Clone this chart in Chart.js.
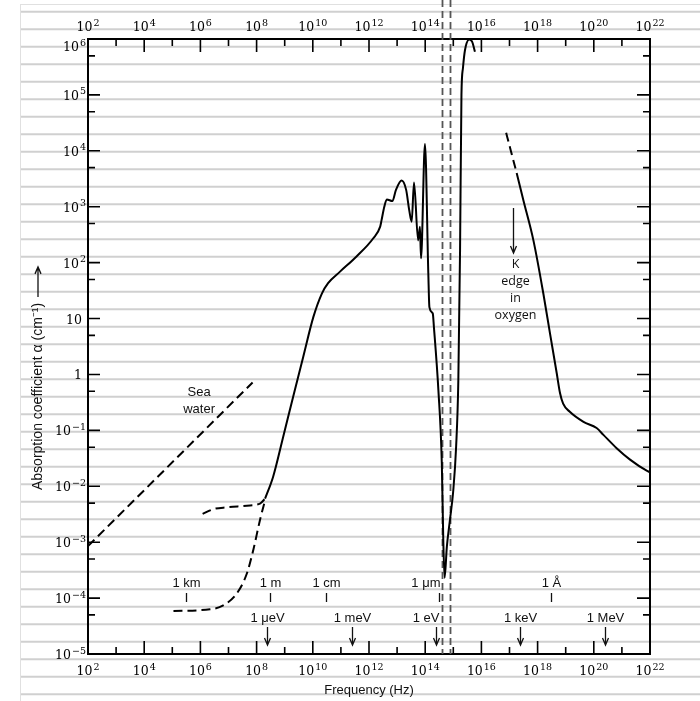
<!DOCTYPE html>
<html>
<head>
<meta charset="utf-8">
<style>
  html, body { margin: 0; padding: 0; background: #fff; }
  #wrap { width: 700px; height: 701px; }
</style>
</head>
<body>
<div id="wrap"><canvas id="absorptionChart"></canvas></div>
<script src="https://cdn.jsdelivr.net/npm/chart.js@4/dist/chart.umd.min.js"></script>
<script>
// Absorption coefficient of water vs frequency (log-log)
// frequency in Hz, alpha in cm^-1

const waterFreq  = [2.0e8, 3.9e8, 8.9e8, 2.0e9, 4.6e9, 1.05e10, 2.1e10, 3.5e10, 9.3e10, 3.6e11,
                    1.4e12, 2.5e12, 2.8e12, 3.5e12, 4.3e12, 6.8e12, 9.1e12, 1.45e13, 2.1e13, 2.7e13,
                    3.3e13, 4.0e13, 5.6e13, 6.5e13, 7.1e13, 9.8e13, 1.29e14, 1.41e14, 1.86e14, 2.04e14,
                    2.95e14, 3.9e14, 4.4e14, 4.9e14, 5.9e14, 7.6e14, 1.0e15, 1.26e15, 1.51e15, 1.74e15,
                    1.95e15, 2.2e15, 2.6e15, 3.7e15, 4.7e15, 5.9e15];
const waterAlpha = [6.0e-3, 1.5e-2, 7.8e-2, 0.40, 2.1, 10.7, 28, 43, 69, 129,
                    270, 440, 575, 1000, 1350, 1260, 2000, 2950, 2000, 870,
                    540, 2700, 250, 440, 120, 13200, 65, 16, 12.3, 7.1,
                    0.52, 0.026, 1.1e-3, 2.3e-4, 8.3e-4, 2.5e-3, 8.5e-3, 0.051, 0.79, 170,
                    1.0e5, 3.0e5, 6.3e5, 9.8e5, 8.9e5, 5.9e5];

const xrayDashFreq  = [7.6e16, 1.8e17];
const xrayDashAlpha = [2.1e4, 4000];
const xrayFreq  = [1.8e17, 3.1e17, 7.1e17, 1.6e18, 2.75e18, 4.8e18, 6.3e18, 8.1e18, 1.4e19,
                   4.3e19, 1.26e20, 2.2e20, 6.5e20, 1.95e21, 7.6e21, 1e22];
const xrayAlpha = [4000, 1320, 250, 28, 5.5, 1.05, 0.46, 0.30, 0.215,
                   0.142, 0.11, 0.083, 0.048, 0.030, 0.019, 0.0178];

const seaFreq  = [1e2, 7.2e7];
const seaAlpha = [8.5e-4, 0.72];

const lowUpperFreq  = [1.2e6, 2.9e6, 8.7e6, 4.5e7, 1.32e8, 2.0e8];
const lowUpperAlpha = [3.2e-3, 3.9e-3, 4.2e-3, 4.5e-3, 4.9e-3, 6.0e-3];
const lowLowerFreq  = [1.1e5, 2.2e6, 6.5e6, 1.95e7, 4.5e7, 7.6e7, 1.32e8, 2.0e8];
const lowLowerAlpha = [5.9e-5, 6.3e-5, 7.4e-5, 1.2e-4, 2.75e-4, 7.2e-4, 2.5e-3, 5.6e-3];

// visible band edges
const visibleEdgesFreq = [3.9e14, 7.9e14];

// wavelength / photon energy markers
const wavelengthLabels = ['1 km', '1 m', '1 cm', '1 μm', '1 Å'];
const wavelengthFreq   = [3e5, 3e8, 3e10, 3e14, 3e18];
const energyLabels = ['1 μeV', '1 meV', '1 eV', '1 keV', '1 MeV'];
const energyFreq   = [2.42e8, 2.42e11, 2.42e14, 2.42e17, 2.42e20];
const kEdgeFreq = 1.35e17;
const kEdgeAlpha = [950, 148];   // arrow from / to

// axes ("^" splits base and exponent)
const freqTickValues = [1e2, 1e3, 1e4, 1e5, 1e6, 1e7, 1e8, 1e9, 1e10, 1e11, 1e12,
                        1e13, 1e14, 1e15, 1e16, 1e17, 1e18, 1e19, 1e20, 1e21, 1e22];
const freqTickLabels = ['10^2', '', '10^4', '', '10^6', '', '10^8', '', '10^10', '', '10^12',
                        '', '10^14', '', '10^16', '', '10^18', '', '10^20', '', '10^22'];
const alphaDecades = [1e-5, 1e-4, 1e-3, 1e-2, 1e-1, 1, 10, 1e2, 1e3, 1e4, 1e5, 1e6];
const alphaLabels  = ['10^−5', '10^−4', '10^−3', '10^−2', '10^−1', '1', '10', '10^2', '10^3', '10^4', '10^5', '10^6'];
const alphaMinor   = [5e-5, 5e-4, 5e-3, 5e-2, 0.5, 5, 50, 500, 5e3, 5e4, 5e5];

const pts = (xs, ys) => xs.map((v, i) => ({ x: v, y: ys[i] }));

const SANS = '"Liberation Sans", Arial, sans-serif';
const BASE_FONT = '12.5px "DejaVu Serif", "Liberation Serif", serif';
const EXP_FONT  = '9.5px "DejaVu Serif", "Liberation Serif", serif';

// ── ruled paper background + visible band lines ──
const paperPlugin = {
  id: 'paper',
  beforeDraw(chart) {
    const { ctx, width, height } = chart;
    ctx.save();
    ctx.fillStyle = '#fff';
    ctx.fillRect(0, 0, width, height);
    ctx.strokeStyle = '#d0d0d0';
    ctx.lineWidth = 2;
    for (let yy = 11.7; yy < height; yy += 17.5) {
      ctx.beginPath();
      ctx.moveTo(20, yy);
      ctx.lineTo(width, yy);
      ctx.stroke();
    }
    ctx.strokeStyle = '#e0e0e0';
    ctx.lineWidth = 1;
    ctx.beginPath();
    ctx.moveTo(20.5, 4);
    ctx.lineTo(20.5, height);
    ctx.moveTo(20, 4.5);
    ctx.lineTo(width, 4.5);
    ctx.stroke();
    ctx.restore();
  },
  beforeDatasetsDraw(chart) {
    const { ctx, chartArea: a, scales: { x } } = chart;
    ctx.save();
    ctx.strokeStyle = '#555';
    ctx.lineWidth = 1.8;
    ctx.setLineDash([7, 4]);
    visibleEdgesFreq.forEach(f => {
      const px = Math.round(x.getPixelForValue(f)) + 0.5;
      ctx.beginPath();
      ctx.moveTo(px, 0);
      ctx.lineTo(px, a.bottom);
      ctx.stroke();
    });
    ctx.restore();
  },
};

// label with raised exponent, e.g. 10^-3
function drawPower(ctx, text, x, y, align) {
  const [base, exp] = text.split('^');
  ctx.font = BASE_FONT;
  const wb = ctx.measureText(base).width;
  ctx.font = EXP_FONT;
  const we = exp ? ctx.measureText(exp).width + 1 : 0;
  const total = wb + we;
  const left = align === 'center' ? x - total / 2 : align === 'right' ? x - total : x;
  ctx.textAlign = 'left';
  ctx.textBaseline = 'alphabetic';
  ctx.font = BASE_FONT;
  ctx.fillText(base, left, y);
  if (exp) {
    ctx.font = EXP_FONT;
    ctx.fillText(exp, left + wb + 1, y - 5.5);
  }
}

// ── inward tick marks and tick labels on the frame ──
const frameTicks = {
  id: 'frameTicks',
  afterDraw(chart) {
    const { ctx, chartArea: a, scales: { x, y } } = chart;
    ctx.save();
    ctx.strokeStyle = '#000';
    ctx.lineWidth = 1.6;
    ctx.beginPath();
    freqTickValues.forEach((v, i) => {
      const px = x.getPixelForValue(v);
      const len = freqTickLabels[i] ? 13 : 7;
      ctx.moveTo(px, a.bottom); ctx.lineTo(px, a.bottom - len);
      ctx.moveTo(px, a.top); ctx.lineTo(px, a.top + len);
    });
    alphaDecades.forEach(v => {
      const py = y.getPixelForValue(v);
      ctx.moveTo(a.left, py); ctx.lineTo(a.left + 12, py);
      ctx.moveTo(a.right, py); ctx.lineTo(a.right - 13, py);
    });
    alphaMinor.forEach(v => {
      const py = y.getPixelForValue(v);
      ctx.moveTo(a.left, py); ctx.lineTo(a.left + 7, py);
      ctx.moveTo(a.right, py); ctx.lineTo(a.right - 7, py);
    });
    ctx.stroke();

    ctx.fillStyle = '#000';
    freqTickValues.forEach((v, i) => {
      if (!freqTickLabels[i]) return;
      const px = x.getPixelForValue(v);
      drawPower(ctx, freqTickLabels[i], px, a.bottom + 21, 'center');
      drawPower(ctx, freqTickLabels[i], px, a.top - 8, 'center');
    });
    alphaDecades.forEach((v, i) => {
      const py = Math.max(y.getPixelForValue(v) + 5, a.top + 12);
      const plain = !alphaLabels[i].includes('^');
      drawPower(ctx, alphaLabels[i], a.left - (plain ? 6 : 2), py, 'right');
    });
    ctx.restore();
  },
};

function arrowDown(ctx, px, y0, y1) {
  ctx.beginPath();
  ctx.moveTo(px, y0); ctx.lineTo(px, y1);
  ctx.moveTo(px - 3, y1 - 7); ctx.lineTo(px, y1); ctx.lineTo(px + 3, y1 - 7);
  ctx.stroke();
}

// ── text annotations, markers and y title ──
const rightAligned = new Set(['1 μm', '1 eV']);
const annotations = {
  id: 'annotations',
  afterDatasetsDraw(chart) {
    const { ctx, chartArea: a, scales: { x, y } } = chart;
    ctx.save();
    ctx.fillStyle = '#111';
    ctx.strokeStyle = '#111';
    ctx.lineWidth = 1.3;
    ctx.textBaseline = 'middle';
    ctx.font = '13px ' + SANS;

    wavelengthLabels.forEach((label, i) => {
      const px = Math.round(x.getPixelForValue(wavelengthFreq[i])) + 0.5;
      const ra = rightAligned.has(label);
      ctx.textAlign = ra ? 'right' : 'center';
      ctx.fillText(label, ra ? px + 1 : px, a.bottom - 71);
      ctx.beginPath();
      ctx.moveTo(px, a.bottom - 61);
      ctx.lineTo(px, a.bottom - 52);
      ctx.stroke();
    });

    energyLabels.forEach((label, i) => {
      const px = Math.round(x.getPixelForValue(energyFreq[i])) + 0.5;
      const ra = rightAligned.has(label);
      ctx.textAlign = ra ? 'right' : 'center';
      ctx.fillText(label, ra ? px + 3 : px, a.bottom - 36);
      arrowDown(ctx, px, a.bottom - 27, a.bottom - 9);
    });

    // sea water label
    ctx.textAlign = 'center';
    const sx = x.getPixelForValue(9e5);
    const sy = y.getPixelForValue(0.48);
    ctx.fillText('Sea', sx, sy);
    ctx.fillText('water', sx, sy + 17);

    // K edge
    const kx = Math.round(x.getPixelForValue(kEdgeFreq)) + 0.5;
    const ky0 = y.getPixelForValue(kEdgeAlpha[0]);
    const ky1 = y.getPixelForValue(kEdgeAlpha[1]);
    arrowDown(ctx, kx, ky0, ky1);
    ctx.font = '12.5px "Open Sans", ' + SANS;
    ['K', 'edge', 'in', 'oxygen'].forEach((t, i) => ctx.fillText(t, kx + 2, ky1 + 11 + i * 17));

    // y-axis title, reading upward, followed by an arrow
    ctx.font = '14px ' + SANS;
    ctx.translate(38, a.bottom - 164);
    ctx.rotate(-Math.PI / 2);
    ctx.textAlign = 'left';
    const title = 'Absorption coefficient α (cm⁻¹)';
    ctx.fillText(title, 0, 0);
    const w = ctx.measureText(title).width;
    ctx.beginPath();
    ctx.moveTo(w + 6, 0); ctx.lineTo(w + 36, 0);
    ctx.moveTo(w + 29, -3); ctx.lineTo(w + 36, 0); ctx.lineTo(w + 29, 3);
    ctx.stroke();
    ctx.restore();
  },
};

const lineStyle = {
  showLine: true,
  borderColor: '#000',
  borderWidth: 2,
  pointRadius: 0,
  fill: false,
  cubicInterpolationMode: 'monotone',
};
const dashed = { ...lineStyle, borderDash: [9, 5] };

const frame = { display: true, color: '#000', width: 2 };
const logAxis = (position, min, max, size) => ({
  type: 'logarithmic',
  position,
  min,
  max,
  afterFit: (axis) => {
    if (position === 'top' || position === 'bottom') axis.height = size;
    else axis.width = size;
  },
  grid: { display: false, drawTicks: false },
  border: frame,
  ticks: { display: false },
});

new Chart(document.getElementById('absorptionChart'), {
  type: 'scatter',
  data: {
    datasets: [
      { label: 'Water', data: pts(waterFreq, waterAlpha), ...lineStyle },
      { label: 'X-ray (extrapolated)', data: pts(xrayDashFreq, xrayDashAlpha), ...dashed },
      { label: 'X-ray', data: pts(xrayFreq, xrayAlpha), ...lineStyle },
      { label: 'Sea water', data: pts(seaFreq, seaAlpha), ...dashed },
      { label: 'Low frequency (upper)', data: pts(lowUpperFreq, lowUpperAlpha), ...dashed },
      { label: 'Low frequency (lower)', data: pts(lowLowerFreq, lowLowerAlpha), ...dashed },
    ],
  },
  options: {
    responsive: true,
    maintainAspectRatio: false,
    animation: false,
    events: [],
    layout: { padding: 0 },
    plugins: {
      legend: { display: false },
      tooltip: { enabled: false },
    },
    scales: {
      x: {
        ...logAxis('bottom', 1e2, 1e22, 47),
        title: {
          display: true,
          text: 'Frequency (Hz)',
          color: '#111',
          font: { family: SANS, size: 13 },
          padding: { top: 0, bottom: 3 },
        },
      },
      x2: logAxis('top', 1e2, 1e22, 39),
      y: logAxis('left', 1e-5, 1e6, 88),
      y2: logAxis('right', 1e-5, 1e6, 50),
    },
  },
  plugins: [paperPlugin, frameTicks, annotations],
});
</script>
</body>
</html>
